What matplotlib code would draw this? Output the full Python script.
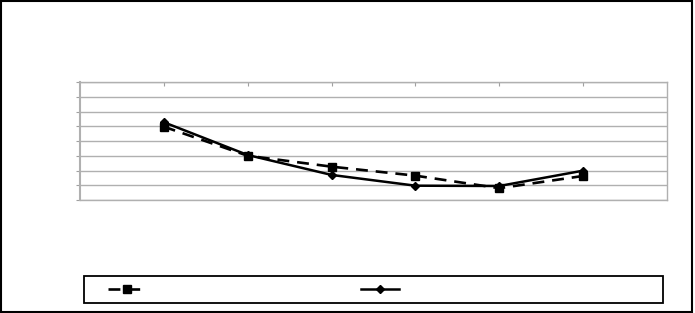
import matplotlib
matplotlib.use("Agg")
import matplotlib.pyplot as plt
from matplotlib.patches import Rectangle
import numpy as np

# values (no labels are shown in the chart)
categories = ["", "", "", "", "", ""]
series_square = [4.97, 3.0, 2.26, 1.65, 0.8, 1.63]
series_diamond = [5.27, 3.05, 1.7, 0.97, 0.95, 1.99]
y_ticks = [0, 1, 2, 3, 4, 5, 6, 7, 8]

W, H = 695, 313


def main():
    """builds the two-line chart and saves it as out.png"""
    fig = plt.figure(figsize=(W / 100, H / 100), dpi=100)
    ax = fig.add_axes([80 / W, 1 - 200 / H, 587 / W, 118 / H])

    x = np.arange(1, len(categories) + 1)
    ax.plot(x, series_square, color="black", lw=1.9, marker="s",
            markersize=6, dashes=(4.5, 3), label=" ")
    ax.plot(x, series_diamond, color="black", lw=1.8, marker="D",
            markersize=4.5, label=" ")

    ax.set_xlim(0, len(categories) + 1)
    ax.set_ylim(y_ticks[0], y_ticks[-1])
    ax.set_yticks(y_ticks)
    ax.set_yticklabels([])
    ax.set_xticks(x)
    ax.set_xticklabels(categories)
    ax.xaxis.tick_top()
    ax.tick_params(axis="x", direction="in", length=3, color="#a0a0a0")
    ax.tick_params(axis="y", direction="out", length=3, color="#a0a0a0")
    ax.grid(axis="y", color="#b0b0b0", lw=1)
    ax.set_axisbelow(True)
    for s in ax.spines.values():
        s.set_color("#b0b0b0")
        s.set_linewidth(1)
    ax.spines["left"].set_linewidth(1.5)

    # legend without text, frame drawn separately
    fs = 10
    px = fs * 100 / 72
    h, l = ax.get_legend_handles_labels()
    fig.legend(h, l, loc="center left", ncol=2, frameon=False,
               bbox_to_anchor=(108 / W, 1 - 289.5 / H),
               borderaxespad=0, borderpad=0, fontsize=fs,
               handlelength=38 / px, handletextpad=0,
               columnspacing=(357 - 146) / px)
    fig.add_artist(Rectangle((84 / W, 1 - 303 / H), 579 / W, 27 / H,
                             transform=fig.transFigure, fill=False,
                             ec="black", lw=1.3))
    fig.add_artist(Rectangle((1 / W, 1 / H), 691 / W, 311 / H,
                             transform=fig.transFigure, fill=False,
                             ec="black", lw=1.5))
    fig.savefig("out.png", dpi=100)


if __name__ == "__main__":
    main()
